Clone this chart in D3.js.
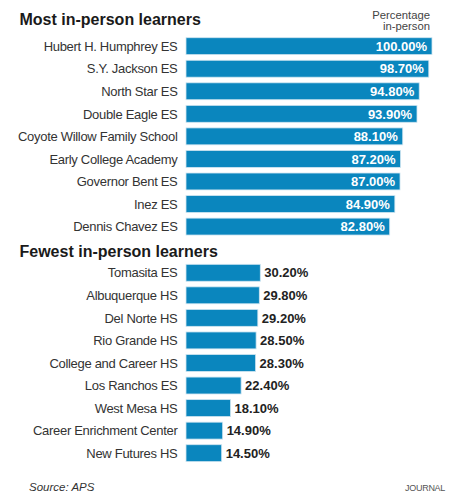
<!DOCTYPE html>
<html><head><meta charset="utf-8">
<script src="https://cdn.jsdelivr.net/npm/d3@7"></script>
<style>
html,body{margin:0;padding:0;background:#fff;}
svg{display:block;font-family:"Liberation Sans",Arial,Helvetica,sans-serif;}
</style></head>
<body>
<script>
const mostSchools = ["Hubert H. Humphrey ES","S.Y. Jackson ES","North Star ES","Double Eagle ES","Coyote Willow Family School","Early College Academy","Governor Bent ES","Inez ES","Dennis Chavez ES"];
const mostValues = [100.00,98.70,94.80,93.90,88.10,87.20,87.00,84.90,82.80];
const fewestSchools = ["Tomasita ES","Albuquerque HS","Del Norte HS","Rio Grande HS","College and Career HS","Los Ranchos ES","West Mesa HS","Career Enrichment Center","New Futures HS"];
const fewestValues = [30.20,29.80,29.20,28.50,28.30,22.40,18.10,14.90,14.50];
const titles = ["Most in-person learners","Fewest in-person learners"];
const unitLabel = ["Percentage","in-person"];

const W=458,H=500;
const svg=d3.select("body").append("svg").attr("width",W).attr("height",H);
const x=d3.scaleLinear().domain([0,100]).range([186,432]);
const barColor="#0a86be";

function section(names,values,y0,titleY,inside){
  const y=d3.scaleBand().domain(names).range([y0,y0+names.length*22.55]).paddingInner(0.25).paddingOuter(0.125);
  svg.append("text").attr("x",19.5).attr("y",titleY).attr("font-size",16).attr("font-weight","bold").attr("fill","#1a1a1a").text(inside?titles[0]:titles[1]);
  const g=svg.append("g");
  const data=names.map((n,i)=>({n,v:values[i]}));
  g.selectAll("rect").data(data).join("rect")
    .attr("x",x(0)).attr("y",d=>y(d.n)).attr("width",d=>x(d.v)-x(0)).attr("height",y.bandwidth())
    .attr("fill",barColor).attr("stroke","#cfe5f1").attr("stroke-width",0.8);
  g.selectAll("text.lab").data(data).join("text").attr("class","lab")
    .attr("x",177.5).attr("y",d=>y(d.n)+y.bandwidth()/2).attr("dy","0.36em")
    .attr("text-anchor","end").attr("font-size",13).attr("letter-spacing","-0.3").attr("fill","#333").text(d=>d.n);
  g.selectAll("text.val").data(data).join("text").attr("class","val")
    .attr("x",d=>inside?x(d.v)-5:x(d.v)+4).attr("y",d=>y(d.n)+y.bandwidth()/2).attr("dy","0.36em")
    .attr("text-anchor",inside?"end":"start").attr("font-size",13).attr("font-weight","bold")
    .attr("fill",inside?"#fff":"#222").text(d=>d.v.toFixed(2)+"%");
}
section(mostSchools,mostValues,34.9,25,true);
section(fewestSchools,fewestValues,261.5,256.5,false);

svg.append("text").attr("x",430).attr("y",19).attr("text-anchor","end").attr("font-size",11.3).attr("fill","#444")
  .selectAll("tspan").data(unitLabel).join("tspan").attr("x",430).attr("dy",(d,i)=>i?11:0).text(d=>d);

svg.append("text").attr("x",29).attr("y",491).attr("font-size",11.5).attr("font-style","italic").attr("fill","#333").text("Source: APS");
svg.append("text").attr("x",445).attr("y",491).attr("text-anchor","end").attr("font-size",9).attr("fill","#555").attr("letter-spacing","-0.3").text("JOURNAL");
</script>
</body></html>
